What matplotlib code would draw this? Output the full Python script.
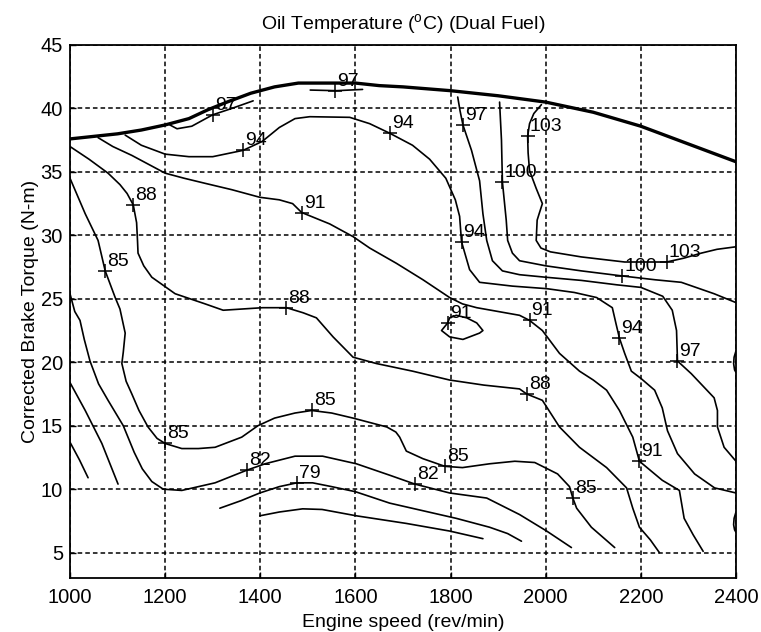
import matplotlib
matplotlib.use("Agg")
from matplotlib import pyplot as plt

# engine speed (rev/min) and corrected brake torque (N-m)
envelopeSpeed = [1000, 1050, 1100, 1150, 1200, 1250, 1290, 1330, 1380, 1430, 1480, 1540,
                 1600, 1650, 1700, 1800, 1900, 2000, 2100, 2200, 2300, 2400]
envelopeTorque = [37.6, 37.8, 38.0, 38.3, 38.7, 39.2, 39.9, 40.5, 41.2, 41.7, 42.0, 42.0,
                  42.0, 41.8, 41.7, 41.4, 41.0, 40.5, 39.7, 38.6, 37.2, 35.8]

# 76 degC
c76Speed = [1399, 1440, 1489, 1530, 1602, 1707, 1798, 1868]
c76Torque = [7.9, 8.2, 8.45, 8.4, 7.9, 7.3, 6.7, 6.1]
c76LeftSpeed = [1000, 1020, 1038]
c76LeftTorque = [13.7, 12.3, 10.9]

# 79 degC
c79Speed = [1315, 1360, 1399, 1440, 1477, 1510, 1550, 1600, 1672, 1742, 1812, 1882, 1920, 1949]
c79Torque = [8.5, 9.1, 9.7, 10.2, 10.5, 10.5, 10.2, 9.8, 8.9, 8.3, 7.7, 7.0, 6.5, 5.9]
c79LeftSpeed = [1000, 1032, 1067, 1101]
c79LeftTorque = [18.4, 16.2, 13.6, 10.4]

# 82 degC
c82Speed = [1000, 1010, 1021, 1030, 1042, 1060, 1080, 1112, 1135, 1152, 1172, 1196, 1235,
            1305, 1372, 1410, 1473, 1531, 1602, 1672, 1725, 1798, 1876, 1945, 2002, 2054]
c82Torque = [25.4, 24.0, 23.3, 21.8, 20.1, 18.3, 17.0, 15.0, 12.9, 11.6, 10.6, 10.0, 9.9,
             10.5, 11.5, 12.0, 12.6, 12.6, 12.0, 11.1, 10.4, 9.7, 9.3, 8.0, 6.7, 5.4]

# 85 degC
c85Speed = [1000, 1032, 1059, 1074, 1095, 1105, 1116, 1112, 1109, 1118, 1130, 1145, 1164,
            1183, 1200, 1235, 1270, 1305, 1361, 1395, 1430, 1473, 1508, 1550, 1595, 1666,
            1685, 1693, 1707, 1742, 1788, 1825, 1882, 1935, 1977, 2025, 2050, 2057, 2065,
            2096, 2145]
c85Torque = [34.5, 31.7, 29.6, 27.2, 25.1, 24.2, 22.3, 20.8, 19.9, 18.5, 17.5, 16.2, 14.9,
             14.0, 13.6, 13.2, 13.2, 13.3, 14.1, 15.0, 15.6, 16.0, 16.2, 16.0, 15.6, 14.9,
             14.5, 14.1, 13.0, 12.4, 11.8, 11.7, 12.0, 12.2, 12.1, 11.2, 10.2, 9.3, 8.5,
             7.0, 5.4]

# 88 degC
c88Speed = [1000, 1040, 1080, 1105, 1120, 1133, 1140, 1142, 1143, 1155, 1172, 1221, 1284,
            1322, 1405, 1455, 1490, 1518, 1553, 1595, 1644, 1720, 1798, 1870, 1945, 1960,
            1993, 2029, 2071, 2128, 2170, 2183, 2197, 2220, 2239]
c88Torque = [37.0, 36.0, 34.9, 34.0, 33.3, 32.4, 31.0, 29.5, 28.6, 27.6, 26.7, 25.4, 24.6,
             24.1, 24.3, 24.3, 23.9, 23.5, 22.0, 20.4, 19.9, 19.3, 18.6, 18.2, 17.9, 17.5,
             17.0, 14.9, 13.3, 11.7, 10.1, 8.5, 7.0, 6.0, 5.0]
c88EdgeSpeed = [2400, 2396, 2395, 2397, 2400]
c88EdgeTorque = [8.2, 7.7, 7.2, 6.8, 6.6]

# 91 degC
c91Speed = [1059, 1090, 1130, 1165, 1200, 1240, 1284, 1340, 1399, 1440, 1468, 1487, 1546,
            1595, 1630, 1686, 1742, 1798, 1825, 1855, 1900, 1945, 1966, 1993, 2029, 2071,
            2100, 2128, 2155, 2183, 2197, 2245, 2281, 2291, 2310, 2331]
c91Torque = [37.7, 37.0, 36.3, 35.6, 34.9, 34.5, 34.1, 33.6, 33.0, 32.8, 32.5, 31.8, 30.9,
             29.9, 29.0, 27.8, 26.5, 25.1, 24.6, 24.3, 24.0, 23.7, 23.3, 22.5, 20.7, 19.3,
             18.6, 17.8, 16.2, 14.1, 12.2, 10.7, 9.9, 7.7, 6.4, 5.1]
c91LoopSpeed = [1794, 1781, 1798, 1826, 1861, 1868, 1855, 1834, 1812, 1798, 1794]
c91LoopTorque = [23.1, 22.5, 22.0, 21.8, 22.3, 22.5, 23.1, 23.5, 23.7, 23.5, 23.1]

# 94 degC
c94Speed = [1116, 1150, 1200, 1250, 1300, 1364, 1404, 1440, 1473, 1504, 1588, 1630, 1672,
            1720, 1756, 1790, 1810, 1819, 1823, 1840, 1861, 1930, 2002, 2060, 2107, 2140,
            2148, 2155, 2166, 2180, 2201, 2229, 2245, 2256, 2277, 2313, 2355, 2400]
c94Torque = [37.9, 37.1, 36.4, 36.2, 36.2, 36.7, 37.4, 38.5, 39.2, 39.35, 39.3, 38.8, 38.05,
             37.1, 36.0, 34.5, 32.8, 31.5, 29.5, 27.3, 26.3, 26.0, 25.8, 25.5, 25.1, 24.3,
             23.0, 21.9, 20.7, 19.3, 18.7, 17.8, 16.4, 14.6, 12.8, 11.2, 10.1, 9.7]

# 97 degC
c97LeftSpeed = [1210, 1225, 1256, 1300, 1340, 1385]
c97LeftTorque = [38.7, 38.4, 38.6, 39.5, 40.0, 40.6]
c97TopSpeed = [1505, 1560, 1615]
c97TopTorque = [41.45, 41.4, 41.5]
c97Speed = [1815, 1820, 1826, 1844, 1861, 1868, 1876, 1888, 1909, 1945, 2000, 2075, 2150,
            2200, 2246, 2266, 2275, 2277, 2306, 2354, 2361, 2361, 2375, 2400]
c97Torque = [40.9, 39.8, 38.7, 36.7, 34.3, 31.7, 29.6, 28.0, 27.2, 26.9, 26.7, 26.45, 26.1,
             25.9, 25.2, 24.1, 22.5, 20.1, 19.1, 17.2, 16.2, 14.9, 13.3, 12.2]

# 100 degC
c100Speed = [1903, 1905, 1907, 1909, 1917, 1920, 1930, 1945, 2000, 2075, 2161, 2230, 2285,
             2354, 2400]
c100Torque = [40.5, 39.0, 37.5, 34.2, 31.2, 29.6, 28.6, 28.0, 27.6, 27.2, 26.8, 26.5, 26.3,
              25.4, 24.7]
c100EdgeSpeed = [2400, 2396, 2395, 2397, 2400]
c100EdgeTorque = [20.9, 20.4, 19.9, 19.4, 19.2]

# 103 degC
c103Speed = [1991, 1975, 1966, 1962, 1963, 1966, 1980, 1993, 1987, 1982, 1980, 1990, 2010,
             2075, 2166, 2254, 2290, 2327, 2360, 2400]
c103Torque = [40.3, 39.6, 38.8, 37.8, 36.5, 35.1, 33.7, 32.5, 31.8, 31.2, 29.6, 29.0, 28.7,
              28.3, 27.9, 27.9, 28.2, 28.6, 28.9, 29.1]

# contour labels: '+' position and text
labelSpeed = [1300, 1557, 1364, 1672, 1826, 1962, 1909, 1133, 1487, 1823, 2161, 2254, 1074,
              1455, 1794, 1966, 2155, 2277, 1960, 1200, 1508, 2197, 1372, 1477, 1725, 1788,
              2057]
labelTorque = [39.5, 41.4, 36.7, 38.05, 38.7, 37.8, 34.2, 32.4, 31.8, 29.5, 26.8, 27.9, 27.2,
               24.3, 23.1, 23.3, 21.9, 20.1, 17.5, 13.6, 16.2, 12.2, 11.5, 10.5, 10.4, 11.8,
               9.3]
labelText = ["97", "97", "94", "94", "97", "103", "100", "88", "91", "94", "100", "103", "85",
             "88", "91", "91", "94", "97", "88", "85", "85", "91", "82", "79", "82", "85",
             "85"]

speedTicks = [1000, 1200, 1400, 1600, 1800, 2000, 2200, 2400]
torqueTicks = [5, 10, 15, 20, 25, 30, 35, 40, 45]


def main():
    plt.rcParams["font.family"] = ["Liberation Sans", "DejaVu Sans"]
    plt.rcParams["mathtext.fontset"] = "custom"
    plt.rcParams["mathtext.rm"] = "Liberation Sans"

    fig = plt.figure(figsize=(7.61, 6.32), dpi=100)
    ax = fig.add_axes([70 / 761, 54 / 632, 666 / 761, 533 / 632])

    contourLines = [
        (c76Speed, c76Torque), (c76LeftSpeed, c76LeftTorque),
        (c79Speed, c79Torque), (c79LeftSpeed, c79LeftTorque),
        (c82Speed, c82Torque),
        (c85Speed, c85Torque),
        (c88Speed, c88Torque), (c88EdgeSpeed, c88EdgeTorque),
        (c91Speed, c91Torque), (c91LoopSpeed, c91LoopTorque),
        (c94Speed, c94Torque),
        (c97LeftSpeed, c97LeftTorque), (c97TopSpeed, c97TopTorque), (c97Speed, c97Torque),
        (c100Speed, c100Torque), (c100EdgeSpeed, c100EdgeTorque),
        (c103Speed, c103Torque),
    ]
    for speed, torque in contourLines:
        ax.plot(speed, torque, color="black", lw=1.2, zorder=3,
                solid_joinstyle="round", solid_capstyle="round")
    ax.plot(envelopeSpeed, envelopeTorque, color="black", lw=2.4, zorder=4,
            solid_joinstyle="round")

    ax.plot(labelSpeed, labelTorque, linestyle="none", marker="+", ms=10, mew=1.1,
            color="black", zorder=5)
    for x, y, text in zip(labelSpeed, labelTorque, labelText):
        ax.annotate(text, (x, y), xytext=(1.5, 3.6), textcoords="offset points",
                    ha="left", va="baseline", fontsize=14, zorder=6)

    ax.set_xlim(1000, 2400)
    ax.set_ylim(3, 45)
    ax.set_xticks(speedTicks)
    ax.set_yticks(torqueTicks)
    ax.tick_params(direction="in", length=4, width=1, labelsize=14.5)
    ax.tick_params(axis="x", pad=7)
    ax.tick_params(axis="y", pad=5)
    ax.grid(True, color="black", lw=1.1, linestyle=(0, (3, 2)))
    for spine in ax.spines.values():
        spine.set_linewidth(1.3)

    ax.set_xlabel("Engine speed (rev/min)", fontsize=14, labelpad=5)
    ax.set_ylabel("Corrected Brake Torque (N-m)", fontsize=14, labelpad=1)
    ax.set_title(r"Oil Temperature ($^{\mathrm{o}}$C) (Dual Fuel)", fontsize=14, pad=11)

    fig.savefig("out.png", dpi=100)


if __name__ == "__main__":
    main()
